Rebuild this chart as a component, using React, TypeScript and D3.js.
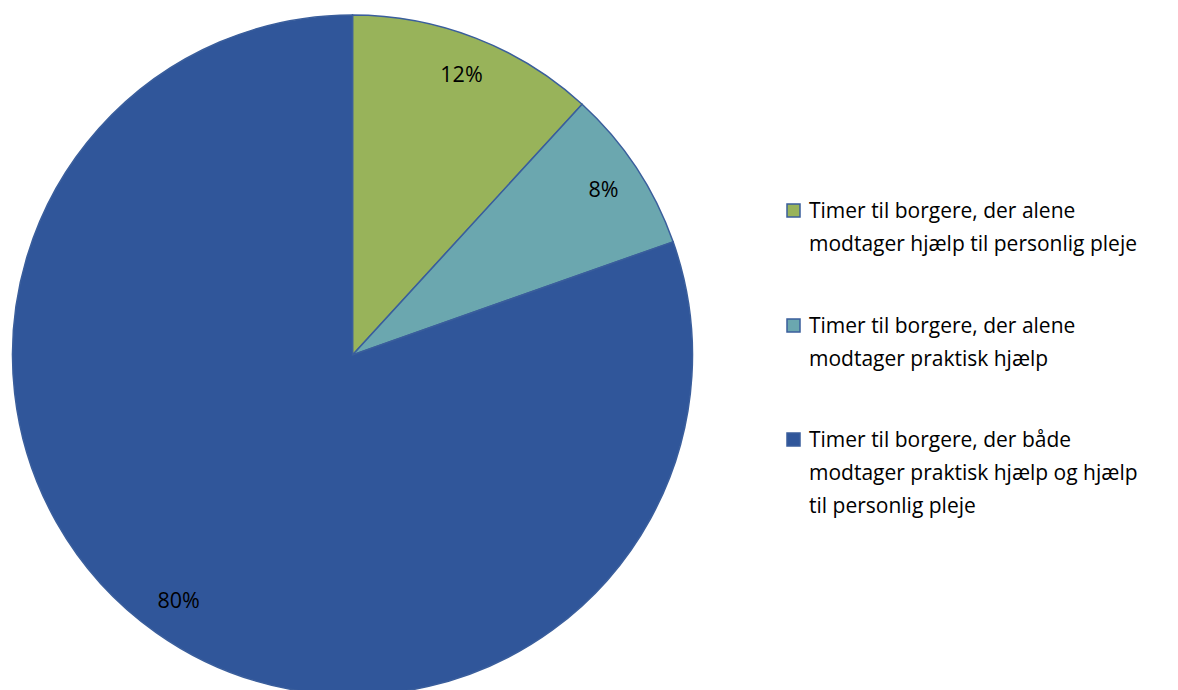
import React from 'react';
import * as d3 from 'd3';

const categories = [
  ['Timer til borgere, der alene', 'modtager hjælp til personlig pleje'],
  ['Timer til borgere, der alene', 'modtager praktisk hjælp'],
  ['Timer til borgere, der både', 'modtager praktisk hjælp og hjælp', 'til personlig pleje'],
];
const values = [11.8, 7.8, 80.4];
const labels = ['12%', '8%', '80%'];
const colors = ['#98B35A', '#6BA7AF', '#30569A'];

const W = 1178;
const H = 690;
const cx = 352.5;
const cy = 355;
const r = 340;

const App = () => {
  const pie = d3
    .pie<number>()
    .sort(null)
    .value((d) => d);
  const arcs = pie(values);
  const arc = d3.arc<d3.PieArcDatum<number>>().innerRadius(0).outerRadius(r);
  // labels sit near the rim
  const labelArc = d3
    .arc<d3.PieArcDatum<number>>()
    .innerRadius(r * 0.885)
    .outerRadius(r * 0.885);

  const legendY = [211, 326, 440];

  return (
    <svg
      width={W}
      height={H}
      style={{ position: 'absolute', left: 0, top: 0, fontFamily: '"Open Sans", sans-serif' }}
    >
      <rect width={W} height={H} fill="#fff" />
      <g transform={`translate(${cx},${cy})`}>
        {arcs.map((a, i) => (
          <path key={i} d={arc(a) || ''} fill={colors[i]} stroke="#3A5E9C" strokeWidth={1.5} />
        ))}
        {arcs.map((a, i) => {
          const [x, y] = labelArc.centroid(a);
          return (
            <text key={i} x={x} y={y} textAnchor="middle" dy="0.35em" fontSize={21.5} fill="#000">
              {labels[i]}
            </text>
          );
        })}
      </g>
      {categories.map((lines, i) => (
        <g key={i}>
          <rect
            x={787}
            y={legendY[i] - 7}
            width={13}
            height={13}
            fill={colors[i]}
            stroke="#3A5E9C"
            strokeWidth={1.5}
          />
          <text fontSize={21} fill="#000">
            {lines.map((t, j) => (
              <tspan key={j} x={809} y={legendY[i] + j * 33} dy="0.35em">
                {t}
              </tspan>
            ))}
          </text>
        </g>
      ))}
    </svg>
  );
};

export default App;
